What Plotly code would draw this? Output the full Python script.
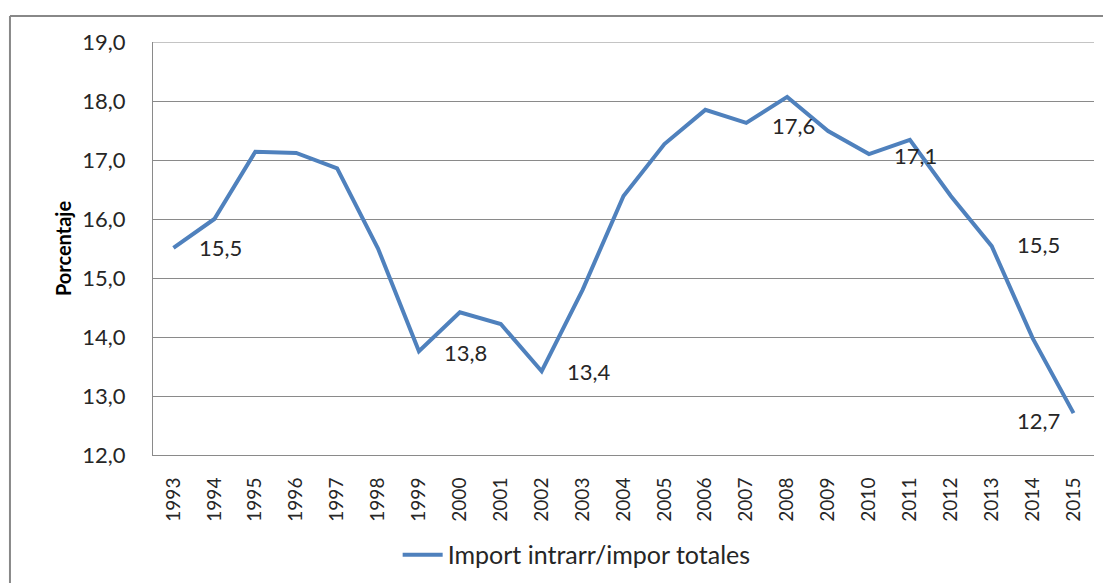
import plotly.graph_objects as go

years = [str(y) for y in range(1993, 2016)]
values = [15.51, 16.0, 17.14, 17.12, 16.86, 15.5, 13.76, 14.42, 14.22, 13.42, 14.8, 16.39,
          17.27, 17.85, 17.63, 18.07, 17.49, 17.1, 17.34, 16.39, 15.54, 13.98, 12.71]
series_name = "Import intrarr/impor totales"
y_title = "Porcentaje"
y_ticks = [12, 13, 14, 15, 16, 17, 18, 19]
y_ticktext = ["12,0", "13,0", "14,0", "15,0", "16,0", "17,0", "18,0", "19,0"]

# data labels (text and where they sit)
label_texts = ["15,5", "13,8", "13,4", "17,6", "17,1", "15,5", "12,7"]
label_years = ["1994", "2000", "2003", "2008", "2011", "2014", "2014"]
label_y = [15.51, 13.73, 13.41, 17.59, 17.08, 15.56, 12.58]

FONT = "Lato, 'Open Sans', sans-serif"
GRID = "#8a8a8a"
BLUE = "#4F81BD"
TXT = "#262626"

fig = go.Figure()
fig.add_trace(go.Scatter(x=years, y=values, mode="lines", name=series_name,
                         line=dict(color=BLUE, width=4), showlegend=True))

for t, xx, yy in zip(label_texts, label_years, label_y):
    fig.add_annotation(x=years.index(xx), y=yy, text=t, showarrow=False, xshift=6,
                       font=dict(family=FONT, size=22, color=TXT))

# top gridline (at the range edge)
fig.add_shape(type="line", xref="paper", yref="y", x0=0, x1=1, y0=max(y_ticks), y1=max(y_ticks),
              line=dict(color=GRID, width=1), layer="below")
# outer chart frame
fig.add_shape(type="line", xref="paper", yref="paper", x0=-0.152, x1=1.2, y0=1.063, y1=1.063,
              line=dict(color="#888", width=2))
fig.add_shape(type="line", xref="paper", yref="paper", x0=-0.152, x1=-0.152, y0=1.063, y1=-0.5,
              line=dict(color="#888", width=2))

fig.update_layout(
    width=1111, height=583,
    margin=dict(l=145, r=25, t=34, b=136, autoexpand=False),
    paper_bgcolor="white", plot_bgcolor="white",
    font=dict(family=FONT, size=18, color=TXT),
    showlegend=True,
    legend=dict(orientation="h", x=0.26, xanchor="left", y=-0.242, yanchor="middle",
                font=dict(family=FONT, size=25, color=TXT), itemwidth=40),
    xaxis=dict(type="category", categoryorder="array", categoryarray=years,
               range=[-0.5, len(years) - 0.5], automargin=False,
               showgrid=False, showline=True, linecolor=GRID, linewidth=1,
               tickangle=-90, ticks="", ticklabelstandoff=14,
               tickfont=dict(family=FONT, size=19, color=TXT)),
    yaxis=dict(range=[12, 19], tickvals=y_ticks, ticktext=y_ticktext, automargin=False,
               showgrid=True, gridcolor=GRID, gridwidth=1, showline=True, linecolor=GRID,
               linewidth=1, ticks="", ticklabelstandoff=22, zeroline=False,
               tickfont=dict(family=FONT, size=22, color=TXT),
               title=dict(text="<b>" + y_title + "</b>", standoff=5,
                          font=dict(family=FONT, size=20, color="black"))),
)

fig.write_html("out.html")
